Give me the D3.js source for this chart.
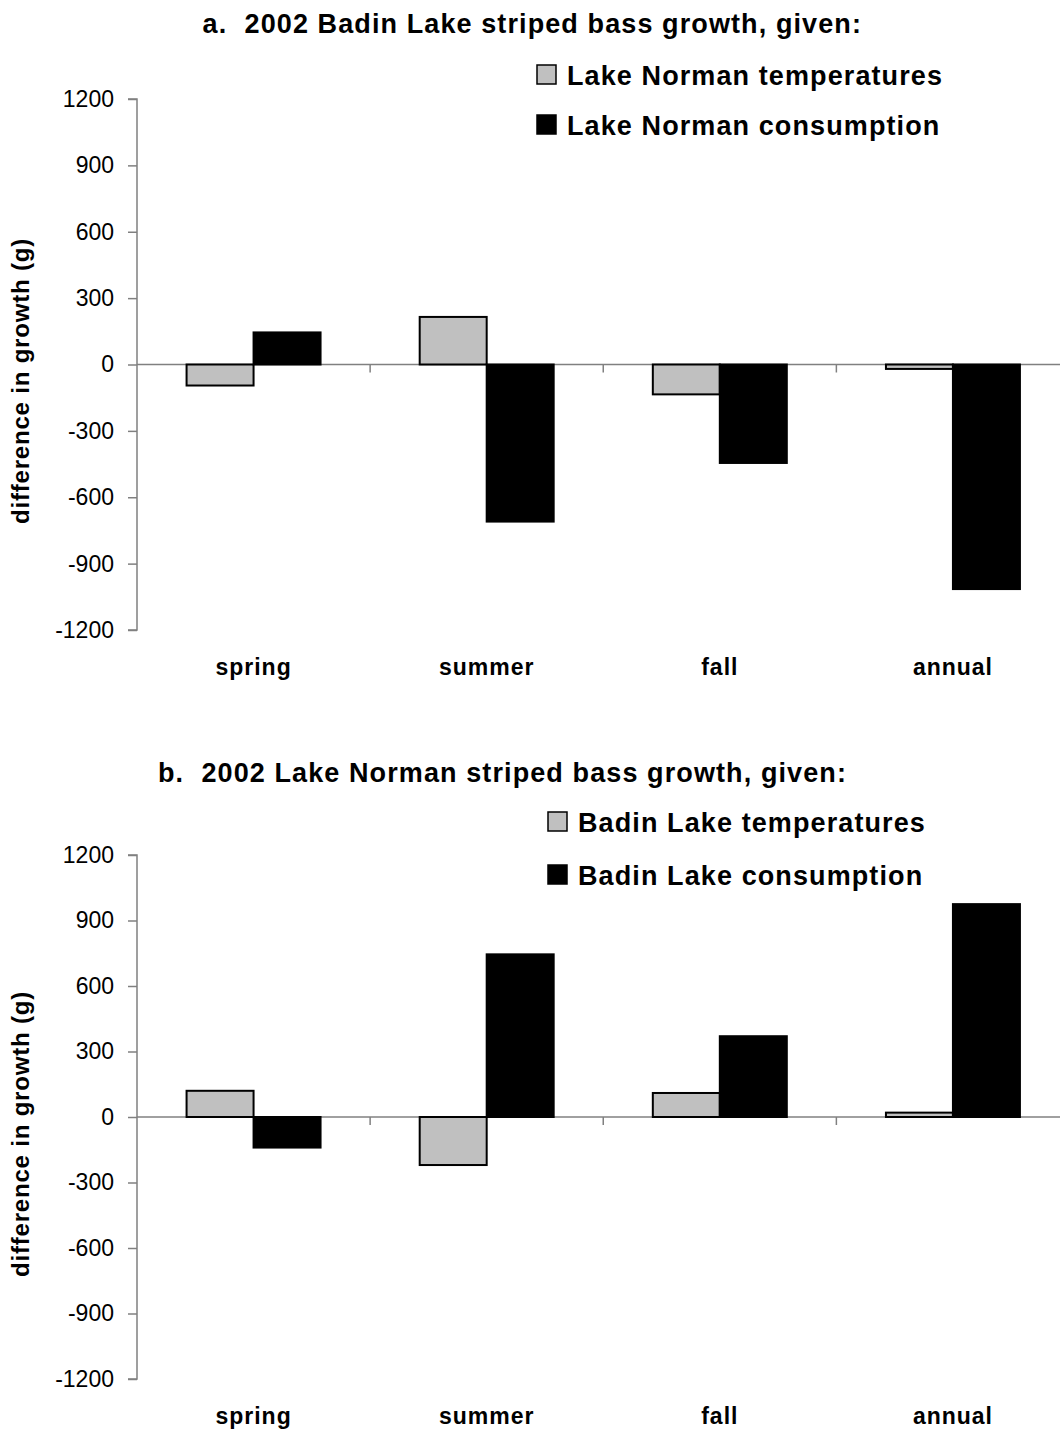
<!DOCTYPE html>
<html>
<head>
<meta charset="utf-8">
<script src="https://cdn.jsdelivr.net/npm/d3@7"></script>
<style>
  html, body { margin: 0; padding: 0; background: #fff; }
  svg { display: block; }
  text { font-family: "Liberation Sans", Arial, sans-serif; fill: #000; white-space: pre; }
</style>
</head>
<body>
<svg id="chart" width="1060" height="1431"></svg>
<script>
// ---- data ----
const categories = ["spring", "summer", "fall", "annual"];
const yTicks = [1200, 900, 600, 300, 0, -300, -600, -900, -1200];

const titleA = "a.  2002 Badin Lake striped bass growth, given:";
const legendA = ["Lake Norman temperatures", "Lake Norman consumption"];
const tempA = [-95, 215, -135, -20];
const consA = [145, -710, -445, -1015];

const titleB = "b.  2002 Lake Norman striped bass growth, given:";
const legendB = ["Badin Lake temperatures", "Badin Lake consumption"];
const tempB = [120, -220, 110, 20];
const consB = [-140, 745, 370, 975];

const yLabel = "difference in growth (g)";
const seriesKeys = ["temp", "cons"];
const fills = { temp: "#c0c0c0", cons: "#000000" };

// ---- layout ----
const panels = [
  { title: titleA, legend: legendA, temp: tempA, cons: consA,
    yTop: 99, yBot: 630, titleY: 33, titleEndX: 862,
    legSqX: 537, legSqY: [65, 115], legTextX: 567, yLabelY: 381 },
  { title: titleB, legend: legendB, temp: tempB, cons: consB,
    yTop: 855, yBot: 1379, titleY: 782, titleEndX: 847,
    legSqX: 548, legSqY: [812, 865], legTextX: 578, yLabelY: 1134 }
];

const svg = d3.select("#chart");
const axisX = 137;
const x0 = d3.scaleBand().domain(categories).range([axisX, 1069.5]).padding(0);
const x1 = d3.scaleBand().domain(seriesKeys).range([0, x0.bandwidth()])
  .paddingInner(0).paddingOuter(0.74);

panels.forEach(p => {
  const g = svg.append("g");
  const y = d3.scaleLinear().domain([-1200, 1200]).range([p.yBot, p.yTop]);

  // title
  g.append("text")
    .attr("x", p.titleEndX).attr("y", p.titleY)
    .attr("text-anchor", "end")
    .attr("xml:space", "preserve")
    .style("font-size", "27px").style("font-weight", "bold")
    .style("letter-spacing", "1.1px")
    .text(p.title);

  // legend
  seriesKeys.forEach((k, i) => {
    g.append("rect")
      .attr("x", p.legSqX).attr("y", p.legSqY[i])
      .attr("width", 19).attr("height", 19)
      .attr("fill", fills[k]).attr("stroke", "#000").attr("stroke-width", 1.5);
    g.append("text")
      .attr("x", p.legTextX).attr("y", p.legSqY[i] + 20)
      .style("font-size", "27px").style("font-weight", "bold")
      .style("letter-spacing", "1.1px")
      .text(p.legend[i]);
  });

  // y axis
  const yAxis = d3.axisLeft(y).tickValues(yTicks).tickSize(9).tickPadding(14)
    .tickFormat(d => String(d));
  const ya = g.append("g").attr("transform", `translate(${axisX},0)`).call(yAxis);
  ya.select(".domain").attr("stroke", "#808080").attr("stroke-width", 1.5)
    .attr("d", `M-9,${p.yTop}H0V${p.yBot}H-9`);
  ya.selectAll(".tick line").attr("stroke", "#808080").attr("stroke-width", 1.5);
  ya.selectAll(".tick text").style("font-size", "23px")
    .style("font-family", "'Liberation Sans', Arial, sans-serif").attr("fill", "#000");

  // x axis at zero
  const zeroY = y(0);
  g.append("line")
    .attr("x1", axisX).attr("x2", 1060).attr("y1", zeroY).attr("y2", zeroY)
    .attr("stroke", "#808080").attr("stroke-width", 1.5);
  g.selectAll(".xtick").data(categories.slice(1)).enter().append("line")
    .attr("x1", d => x0(d)).attr("x2", d => x0(d))
    .attr("y1", zeroY).attr("y2", zeroY + 8)
    .attr("stroke", "#808080").attr("stroke-width", 1.5);

  // bars
  const rows = categories.map((c, i) => ({ cat: c, temp: p.temp[i], cons: p.cons[i] }));
  const grp = g.selectAll(".grp").data(rows).enter().append("g")
    .attr("transform", d => `translate(${x0(d.cat)},0)`);
  grp.selectAll("rect").data(d => seriesKeys.map(k => ({ key: k, value: d[k] })))
    .enter().append("rect")
    .attr("x", d => x1(d.key))
    .attr("width", x1.bandwidth())
    .attr("y", d => y(Math.max(0, d.value)))
    .attr("height", d => Math.abs(y(d.value) - y(0)))
    .attr("fill", d => fills[d.key])
    .attr("stroke", "#000").attr("stroke-width", 2);

  // category labels
  g.selectAll(".cat").data(categories).enter().append("text")
    .attr("x", d => x0(d) + x0.bandwidth() / 2)
    .attr("y", p.yBot + 45)
    .attr("text-anchor", "middle")
    .style("font-size", "23px").style("font-weight", "bold")
    .style("letter-spacing", "1px")
    .text(d => d);

  // y label
  g.append("text")
    .attr("transform", `translate(29,${p.yLabelY}) rotate(-90)`)
    .attr("text-anchor", "middle")
    .style("font-size", "24px").style("font-weight", "bold")
    .style("letter-spacing", "0.8px")
    .text(yLabel);
});
</script>
</body>
</html>
